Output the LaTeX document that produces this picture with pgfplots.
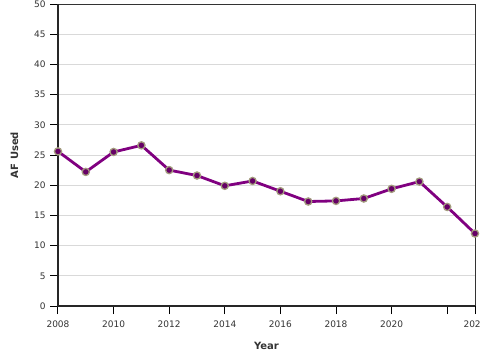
\documentclass[border=0pt]{standalone}
\usepackage{fontspec}
\setmainfont{DejaVu Sans}
\usepackage{pgfplots}
\pgfplotsset{compat=1.18}
\definecolor{lineP}{HTML}{800080}
\definecolor{markEdge}{HTML}{A39B7E}
\definecolor{gridc}{HTML}{D9D9D9}
\definecolor{txt}{HTML}{333333}
\begin{document}
\begin{tikzpicture}
\useasboundingbox (0,0) rectangle (480pt,360pt);
\begin{axis}[
  at={(58pt,54pt)}, anchor=south west,
  scale only axis,
  width=417pt, height=302pt,
  xmin=2008, xmax=2023,
  ymin=0, ymax=50,
  ytick={0,5,...,50},
  xtick={2008,2010,2012,2014,2016,2018,2020,2022,2023},
  xticklabels={2008,2010,2012,2014,2016,2018,2020,,2023},
  ymajorgrids,
  grid style={gridc, line width=0.8pt},
  axis line style={draw=none},
  tick style={black, line width=1pt},
  major tick length=8pt,
  tick align=outside,
  xtick pos=bottom, ytick pos=left,
  /pgf/number format/assume math mode=true,
  ticklabel style={font=\fontsize{9}{11}\selectfont, text=txt},
  xticklabel style={/pgf/number format/1000 sep={}, yshift=-3pt},
  yticklabel style={xshift=-1pt},
  xlabel={\textbf{Year}},
  ylabel={\textbf{AF Used}},
  label style={font=\fontsize{10}{12}\selectfont, text=txt},
  xlabel style={yshift=-8pt},
  ylabel style={yshift=9pt},
  clip=false,
]
\draw[black!80, line width=1pt] (axis cs:2008,50) -- (axis cs:2023,50) -- (axis cs:2023,0);
\draw[black!85, line width=1.8pt] (axis cs:2008,50) -- (axis cs:2008,0) -- (axis cs:2023,0);
\addplot[lineP, line width=2.8pt, mark=*, mark size=3.6pt,
  mark options={fill=lineP!80!black, draw=markEdge, line width=1.3pt}]
coordinates {
(2008,25.6) (2009,22.2) (2010,25.5) (2011,26.6) (2012,22.5) (2013,21.6)
(2014,19.9) (2015,20.7) (2016,19.0) (2017,17.3) (2018,17.4) (2019,17.8)
(2020,19.4) (2021,20.6) (2022,16.4) (2023,12.0)
};
\end{axis}
\end{tikzpicture}
\end{document}
